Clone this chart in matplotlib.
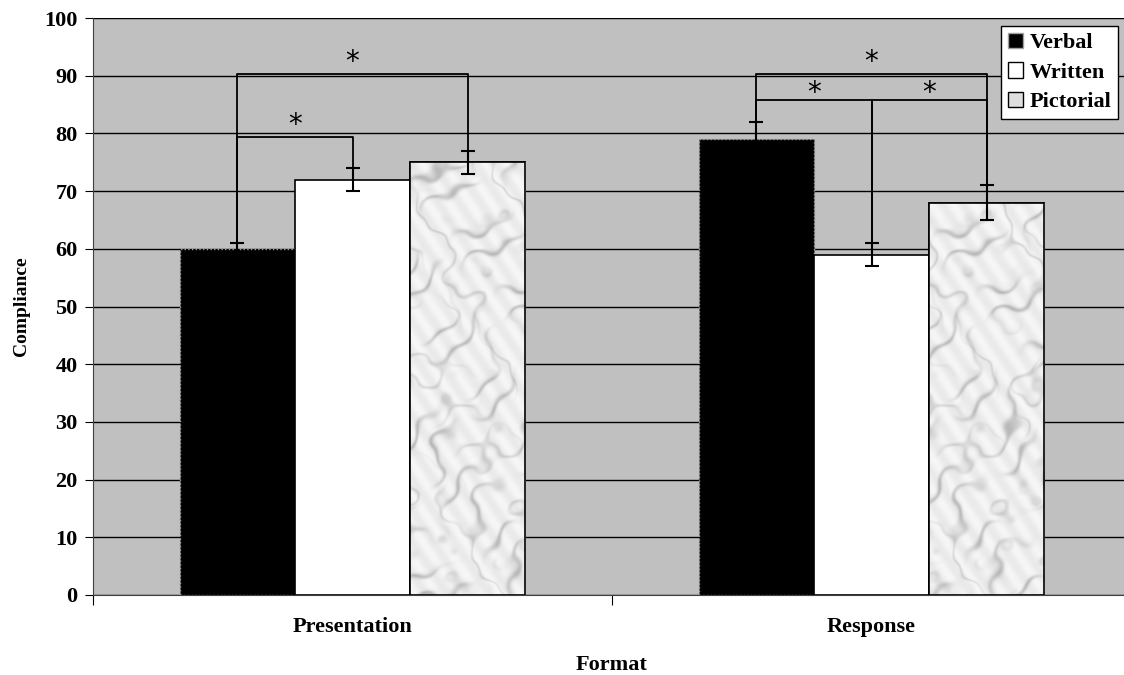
import numpy as np
import matplotlib.pyplot as plt
from matplotlib.patches import Patch

categories = ['Presentation', 'Response']
series = ['Verbal', 'Written', 'Pictorial']
values = {'Verbal': [60, 79], 'Written': [72, 59], 'Pictorial': [75, 68]}
errors = {'Verbal': [1, 3], 'Written': [2, 2], 'Pictorial': [2, 3]}
# significance brackets: (category, series a, series b, bracket height, star height)
brackets = [(0, 0, 2, 90.3, 92.3), (0, 0, 1, 79.4, 81.4),
            (1, 0, 2, 90.3, 92.3), (1, 0, 1, 85.8, 87.0), (1, 1, 2, 85.8, 87.0)]

plt.rcParams['font.family'] = ['Liberation Serif', 'DejaVu Serif']
plt.rcParams['font.weight'] = 'bold'

fig = plt.figure(figsize=(11.24, 6.75), dpi=100)
ax = fig.add_axes([93/1124, 80/675, (1131-93)/1124, 577/675])
ax.set_facecolor('#c0c0c0')

w = 0.222
x = np.arange(len(categories))
offs = [-w, 0, w]


def marble(nx=115, ny=430, seed=0.0):
    # soft grey marble look, built from a few warped sine waves
    u, v = np.meshgrid(np.arange(nx, dtype=float), np.arange(ny, dtype=float))
    u = u + seed
    warp = (9*np.sin(0.050*u + 0.031*v + 1.1) + 6*np.sin(0.083*v - 0.041*u + 2.3)
            + 4*np.sin(0.13*u + 0.11*v + 0.4) + 2*np.sin(0.21*v - 0.17*u + 4.0))
    ph = 0.07*(u - 0.9*v) + 0.12*warp
    vein = np.exp(-np.sin(ph)**2 / 0.12)
    blot = 0.5 + 0.5*np.sin(0.045*v + 0.06*u + 0.6*np.sin(0.09*u - 0.03*v))
    ph2 = 0.05*(u + 0.4*v) + 0.15*warp
    vein2 = np.exp(-np.sin(ph2)**2 / 0.06)
    g = 0.94 - 0.2*vein*blot - 0.12*vein2*(1 - blot) + 0.025*np.sin(0.3*u + 0.2*v)
    return np.clip(g, 0, 1)


for i, s in enumerate(series):
    xs = x + offs[i]
    if s == 'Verbal':
        bars = ax.bar(xs, values[s], w, color='black', edgecolor='#a0a0a0',
                      linewidth=1, linestyle=':', zorder=3)
    elif s == 'Written':
        bars = ax.bar(xs, values[s], w, color='white', edgecolor='black',
                      linewidth=1.2, zorder=3)
    else:
        bars = ax.bar(xs, values[s], w, color='#eeeeee', edgecolor='black',
                      linewidth=1.2, zorder=3)
        for k, b in enumerate(bars):
            ny = int(b.get_height() * 5.77)
            im = ax.imshow(marble(ny=ny, seed=37.0*k), cmap='gray', vmin=0, vmax=1,
                           aspect='auto', origin='lower',
                           extent=(b.get_x(), b.get_x() + w, 0, b.get_height()),
                           zorder=3.5, interpolation='bilinear')
            im.set_clip_path(b)
            ax.add_patch(plt.Rectangle((b.get_x(), 0), w, b.get_height(),
                                       fill=False, edgecolor='black',
                                       linewidth=1.2, zorder=3.6))
    ax.errorbar(xs, values[s], yerr=errors[s], fmt='none', ecolor='black',
                elinewidth=1.5, capsize=5, capthick=1.5, zorder=5)

for c, a, b, h, sy in brackets:
    xa, xb = c + offs[a], c + offs[b]
    ya = values[series[a]][c] + errors[series[a]][c]
    yb = values[series[b]][c] + errors[series[b]][c]
    ax.plot([xa, xa, xb, xb], [ya, h, h, yb], color='black', lw=1.3, zorder=6)
    ax.text((xa + xb) / 2, sy, '*', ha='center', va='center',
            fontsize=20, fontweight='normal', fontfamily='DejaVu Sans', zorder=6)

ax.set_xlim(-0.5, 1.5)
ax.set_ylim(0, 100)
ax.set_yticks(np.arange(0, 101, 10))
ax.yaxis.grid(True, color='black', linewidth=1)
ax.set_axisbelow(True)
ax.set_xticks([-0.5, 0.5, 1.5])
ax.set_xticklabels([])
ax.set_xticks(x, minor=True)
ax.set_xticklabels(categories, minor=True, fontsize=16, fontweight='bold')
ax.tick_params(axis='x', which='minor', length=0, pad=16)
ax.tick_params(axis='x', which='major', length=7, direction='out', color='black')
ax.tick_params(axis='y', length=6, direction='out', labelsize=16, pad=5)
for lab in ax.get_yticklabels():
    lab.set_fontweight('bold')
for sp in ['top', 'right']:
    ax.spines[sp].set_visible(False)
ax.spines['left'].set_color('#404040')
ax.spines['bottom'].set_color('#404040')

ax.set_ylabel('Compliance', fontsize=14, fontweight='bold', labelpad=10)
ax.set_xlabel('Format', fontsize=16, fontweight='bold', labelpad=13)

handles = [Patch(facecolor='black', edgecolor='#a0a0a0'),
           Patch(facecolor='white', edgecolor='black'),
           Patch(facecolor='#dedede', edgecolor='black')]
leg = fig.legend(handles, series, loc='upper left',
                 bbox_to_anchor=(1001/1124, 1 - 26/675), fancybox=False,
                 framealpha=1, edgecolor='black', prop={'size': 16, 'weight': 'bold'},
                 handlelength=0.7, handleheight=0.7, handletextpad=0.3,
                 labelspacing=0.4, borderpad=0.3, borderaxespad=0)
leg.get_frame().set_linewidth(1)

fig.savefig('out.png', dpi=100)
